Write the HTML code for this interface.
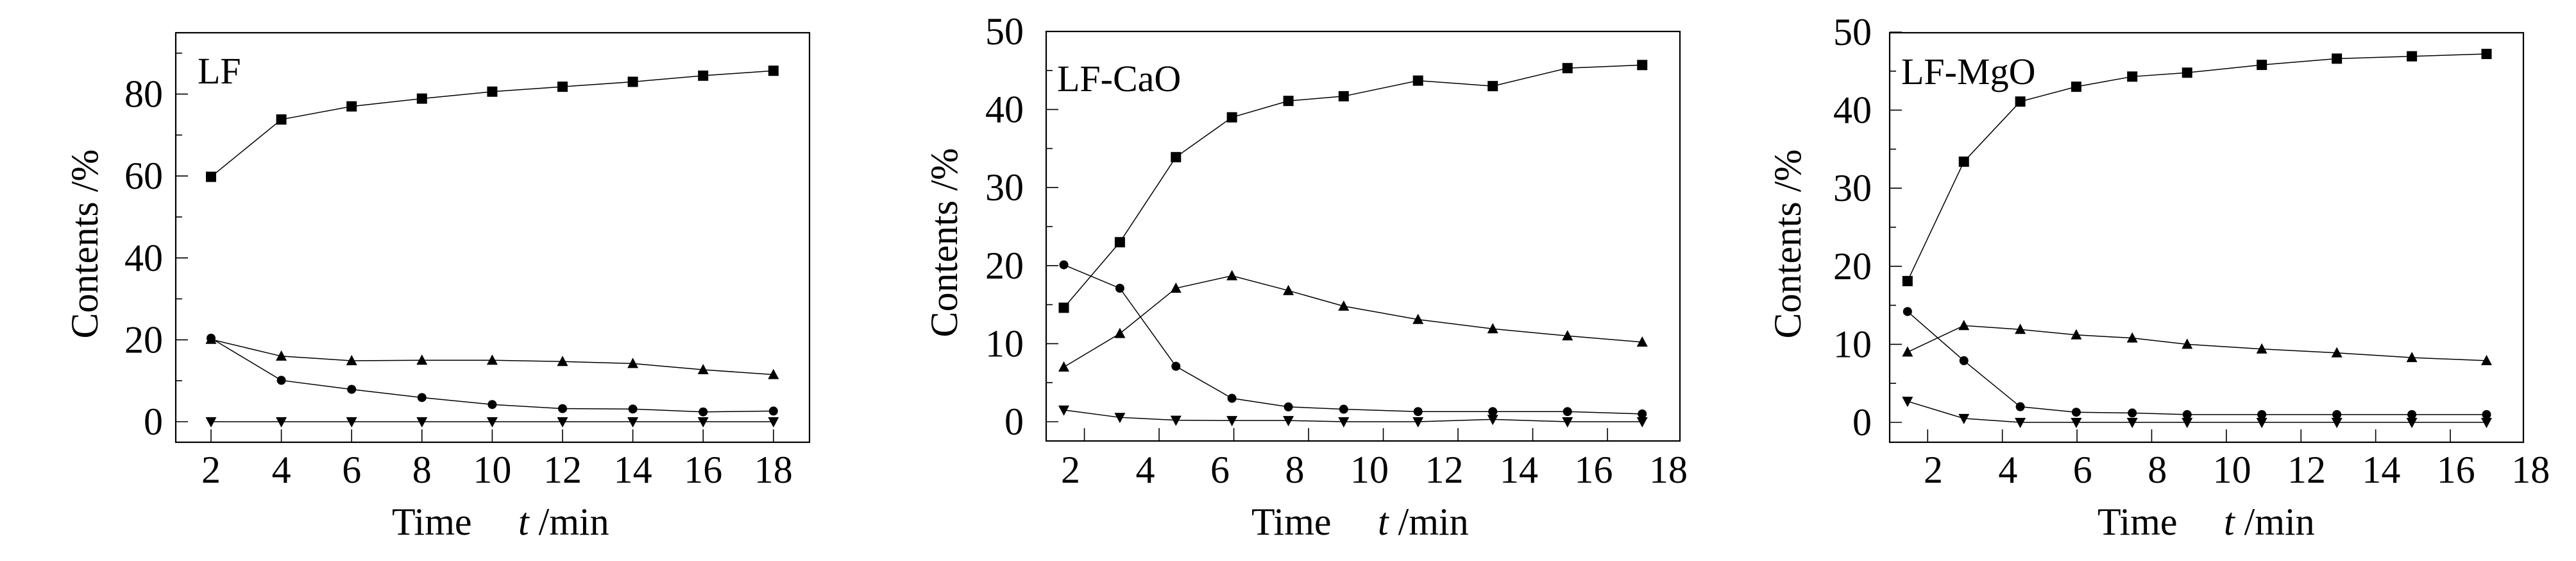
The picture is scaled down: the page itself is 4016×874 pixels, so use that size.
<!DOCTYPE html>
<html><head><meta charset="utf-8"><style>
html,body{margin:0;padding:0;background:#fff}
svg{display:block}
text{font-family:"Liberation Serif",serif;fill:#000}
</style></head><body>
<svg id="fig" width="4016" height="874" viewBox="0 0 4016 874" xmlns="http://www.w3.org/2000/svg"></svg>
<script>
// ---- Panel LF data ----
const lfTime = [2,4,6,8,10,12,14,16,18];
const lfSquare = [59.8,73.8,77.0,78.9,80.6,81.8,83.0,84.5,85.7];
const lfTriUp = [20.1,16.0,14.9,15.0,15.0,14.7,14.2,12.7,11.5];
const lfCircle = [20.4,10.1,7.9,5.9,4.2,3.2,3.1,2.4,2.6];
const lfTriDown = [0,0,0,0,0,0,0,0,0];
const lfYTicks = [0,20,40,60,80];
const lfXTicks = [2,4,6,8,10,12,14,16,18];
// ---- Panel LF-CaO data ----
const caoTime = [1.82,3.32,4.82,6.32,7.83,9.31,11.3,13.3,15.3,17.3];
const caoSquare = [14.6,23.0,33.9,39.0,41.1,41.7,43.7,43.0,45.3,45.7];
const caoTriUp = [7.0,11.3,17.1,18.7,16.8,14.8,13.1,11.9,11.0,10.2];
const caoCircle = [20.1,17.1,7.1,3.0,1.9,1.6,1.3,1.3,1.3,1.0];
const caoTriDown = [1.5,0.55,0.2,0.15,0.15,0,0,0.3,0,0];
const caoYTicks = [0,10,20,30,40,50];
const caoXTicks = [2,4,6,8,10,12,14,16,18];
// ---- Panel LF-MgO data ----
const mgoTime = [1.31,2.82,4.33,5.83,7.33,8.80,10.80,12.81,14.82,16.82];
const mgoSquare = [18.1,33.4,41.1,43.0,44.3,44.8,45.8,46.6,46.9,47.2];
const mgoTriUp = [9.0,12.4,11.9,11.2,10.8,10.0,9.4,8.9,8.3,7.9];
const mgoCircle = [14.2,7.9,2.0,1.3,1.2,1.0,1.0,1.0,1.0,1.0];
const mgoTriDown = [2.7,0.5,0,0,0,0,0,0,0,0];
const mgoYTicks = [0,10,20,30,40,50];
const mgoXTicks = [2,4,6,8,10,12,14,16,18];

const NS="http://www.w3.org/2000/svg";
const svg=document.getElementById('fig');
function mk(tag,attrs,parent){const e=document.createElementNS(NS,tag);for(const k in attrs)e.setAttribute(k,attrs[k]);(parent||svg).appendChild(e);return e;}

const panels=[
 {key:'lf',label:'LF',fl:274,fr:1262,ft:51,fb:689,y0:657,yPer:6.38,x0:329,xk:54.8,
  time:lfTime,sq:lfSquare,tu:lfTriUp,ci:lfCircle,td:lfTriDown,yt:lfYTicks,ymin:10,ystep:20,ymax:90,xt:lfXTicks,
  bt:lfTime,btTop:669,labR:254,tx:308,ty:130,ytx:132,timeX:611,tX:808},
 {key:'cao',label:'LF-CaO',fl:1631,fr:2619,ft:49,fb:687,y0:657,yPer:12.16,x0:1669,xk:58.25,
  time:caoTime,sq:caoSquare,tu:caoTriUp,ci:caoCircle,td:caoTriDown,yt:caoYTicks,ymin:5,ystep:10,ymax:45,xt:caoXTicks,
  bt:[2.37,4.37,6.37,8.37,10.37,12.37,14.37,16.37],btTop:667,labR:1596,tx:1648,ty:142,ytx:1472,timeX:1951,tX:2148},
 {key:'mgo',label:'LF-MgO',fl:2946,fr:3934,ft:51,fb:689,y0:658,yPer:12.16,x0:3014,xk:58.2,
  time:mgoTime,sq:mgoSquare,tu:mgoTriUp,ci:mgoCircle,td:mgoTriDown,yt:mgoYTicks,ymin:5,ystep:10,ymax:45,xt:mgoXTicks,
  bt:[1.85,3.85,5.85,7.85,9.85,11.85,13.85,15.85],btTop:669,labR:2918,tx:2964,ty:131,ytx:2787,timeX:3270,tX:3467}
];
panels.forEach(p=>{
  const g=mk('g',{});
  
  
  const X=v=>p.x0+(v-2)*p.xk;
  const Y=v=>p.y0-v*p.yPer;
  const fr=mk('rect',{x:p.fl,y:p.ft,width:p.fr-p.fl,height:p.fb-p.ft,fill:'none',stroke:'#000','stroke-width':2.2},g);
  
  
  p.yt.forEach(v=>{
    const l=mk('line',{x1:p.fl,x2:p.fl+19,y1:Y(v),y2:Y(v),stroke:'#000','stroke-width':1.6},g);
    
    
    const t=mk('text',{x:p.labR,y:Y(v)+20,'text-anchor':'end','font-size':60},g);
    t.textContent=v;
    
    
  });
  for(let v=p.ymin;v<=p.ymax;v+=p.ystep){
    const l=mk('line',{x1:p.fl,x2:p.fl+10,y1:Y(v),y2:Y(v),stroke:'#000','stroke-width':1.6},g);
    
    
  }
  p.bt.forEach(v=>{
    const l=mk('line',{x1:X(v),x2:X(v),y1:p.fb,y2:p.btTop,stroke:'#000','stroke-width':1.6},g);
    
    
  });
  p.xt.forEach(v=>{
    const t=mk('text',{x:X(v),y:752,'text-anchor':'middle','font-size':60},g);
    t.textContent=v;
    
    
  });
  const series=[['square',p.sq],['triangle-up',p.tu],['circle',p.ci],['triangle-down',p.td]];
  series.forEach(([kind,vals])=>{
    const pts=vals.map((v,i)=>X(p.time[i])+','+Y(v)).join(' ');
    const pl=mk('polyline',{points:pts,fill:'none',stroke:'#000','stroke-width':1.5},g);
    
    
    vals.forEach((v,i)=>{
      const x=X(p.time[i]),y=Y(v);let m;
      if(kind==='square')m=mk('rect',{x:x-8,y:y-8,width:16,height:16,fill:'#000'},g);
      else if(kind==='circle')m=mk('circle',{cx:x,cy:y,r:7,fill:'#000'},g);
      else if(kind==='triangle-up')m=mk('polygon',{points:`${x},${y-9} ${x-8.5},${y+7} ${x+8.5},${y+7}`,fill:'#000'},g);
      else m=mk('polygon',{points:`${x},${y+9} ${x-8.5},${y-7} ${x+8.5},${y-7}`,fill:'#000'},g);
      
      
    });
  });
  const lab=mk('text',{x:p.tx,y:p.ty,'font-size':58},g);
  lab.textContent=p.label;
  
  
  const yt=mk('text',{transform:`translate(${p.ytx+20},${(p.ft+p.fb)/2+10}) rotate(-90)`,'text-anchor':'middle','font-size':60},g);
  yt.textContent='Contents /%';
  
  
  const xt1=mk('text',{x:p.timeX,y:833,'font-size':60},g);
  xt1.textContent='Time';
  
  
  const xt2=mk('text',{x:p.tX,y:833,'font-size':60},g);
  xt2.innerHTML='<tspan font-style="italic">t</tspan> /min';
  
  
});
</script>
</body></html>
